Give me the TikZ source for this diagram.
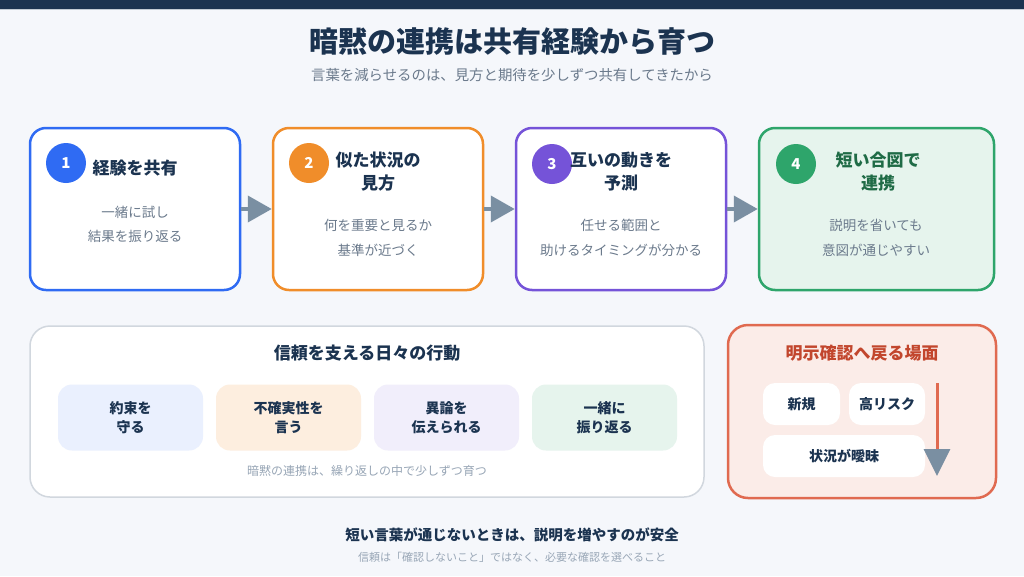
\documentclass[tikz,border=0pt]{standalone}
\usepackage{fontspec,xcolor}
\setmainfont{Noto Sans CJK JP}
\usetikzlibrary{arrows.meta,positioning}

\definecolor{bgpage}{HTML}{F5F7FB}
\definecolor{navy}{HTML}{1B3350}
\definecolor{txtgray}{HTML}{6B7A8C}
\definecolor{lightgray}{HTML}{98A6B6}
\definecolor{cblue}{HTML}{2F6BF3}
\definecolor{corange}{HTML}{F08D2A}
\definecolor{cpurple}{HTML}{7553D8}
\definecolor{cgreen}{HTML}{2EA56B}
\definecolor{dgreen}{HTML}{1F6B46}
\definecolor{flowgray}{HTML}{7A8FA2}
\definecolor{coral}{HTML}{E06A50}
\definecolor{coraltxt}{HTML}{C2462D}

\begin{document}
\begin{tikzpicture}[x=1pt,y=-1pt,
  every node/.style={align=center,inner sep=0pt},
  card/.style={draw=#1,line width=2.5pt,rounded corners=16pt,fill=white,minimum height=162pt},
  badge/.style={circle,fill=#1,text=white,minimum size=40pt,font=\fontsize{15}{18}\selectfont\bfseries},
  ctitle/.style={text=navy,font=\fontsize{17}{23}\selectfont\bfseries},
  cbody/.style={text=txtgray,font=\fontsize{13.5}{24.5}\selectfont},
  flow/.style={draw=flowgray,line width=4pt,-{Triangle[length=24pt,width=26pt]}},
  habit/.style={fill=#1,rounded corners=14pt,minimum width=145pt,minimum height=66pt,text=navy,font=\fontsize{14}{19}\selectfont\bfseries},
  scene/.style={fill=white,rounded corners=12pt,minimum height=42pt,text=navy,font=\fontsize{14}{17}\selectfont\bfseries}]
\useasboundingbox (0,0) rectangle (1024,576);
\fill[bgpage] (0,0) rectangle (1024,576);
\fill[navy] (0,0) rectangle (1024,9);
\draw[lightgray!60,line width=1pt] (0,9.5) -- (1024,9.5);

% heading
\node[text=navy,font=\fontsize{29}{34}\selectfont\bfseries] (title) at (512,42) {暗黙の連携は共有経験から育つ};
\node[text=txtgray,font=\fontsize{14.4}{17}\selectfont] (subtitle) at (512,75) {言葉を減らせるのは、見方と期待を少しずつ共有してきたから};

% four steps
\node[card=cblue,minimum width=210pt] (card1) at (135,209) {};
\node[card=corange,minimum width=210pt] (card2) at (378,209) {};
\node[card=cpurple,minimum width=210pt] (card3) at (621,209) {};
\node[card=cgreen,fill=cgreen!12,minimum width=235pt] (card4) at (876.5,209) {};

\node[badge=cblue] (num1) at (66,163) {1};
\node[badge=corange] (num2) at (309,163) {2};
\node[badge=cpurple] (num3) at (552,164) {3};
\node[badge=cgreen] (num4) at (796,164) {4};

\node[ctitle] (head1) at (135,168) {経験を共有};
\node[ctitle] (head2) at (378,171.5) {似た状況の\\見方};
\node[ctitle] (head3) at (621,171.5) {互いの動きを\\予測};
\node[ctitle,text=dgreen] (head4) at (878,171.5) {短い合図で\\連携};

\node[cbody] (body1) at (135,224.5) {一緒に試し\\結果を振り返る};
\node[cbody] (body2) at (378,238) {何を重要と見るか\\基準が近づく};
\node[cbody] (body3) at (621,238) {任せる範囲と\\助けるタイミングが分かる};
\node[cbody] (body4) at (876,238) {説明を省いても\\意図が通じやすい};

\draw[flow] (card1) -- (card2);
\draw[flow] (card2) -- (card3);
\draw[flow] (card3) -- (card4);

% daily habits
\node[draw=lightgray!45,line width=1.5pt,fill=white,rounded corners=20pt,minimum width=674pt,minimum height=171pt] (habits) at (367,411.5) {};
\node[ctitle] (habitstitle) at (367,353) {信頼を支える日々の行動};
\node[habit=cblue!10] (promise) at (130.5,417.5) {約束を\\守る};
\node[habit=corange!15] (uncertain) at (288.5,417.5) {不確実性を\\言う};
\node[habit=cpurple!10] (dissent) at (446.5,417.5) {異論を\\伝えられる};
\node[habit=cgreen!12] (review) at (604.5,417.5) {一緒に\\振り返る};
\node[text=lightgray,font=\fontsize{12}{14}\selectfont] (habitsnote) at (367,471) {暗黙の連携は、繰り返しの中で少しずつ育つ};

% back to explicit checks
\node[draw=coral,line width=2.5pt,fill=coral!13,rounded corners=20pt,minimum width=268pt,minimum height=173pt] (checks) at (862,411.5) {};
\node[text=coraltxt,font=\fontsize{17}{20}\selectfont\bfseries] (checkstitle) at (862,353) {明示確認へ戻る場面};
\node[scene,minimum width=77pt] (new) at (801.5,404) {新規};
\node[scene,minimum width=76pt] (risk) at (887,404) {高リスク};
\node[scene,minimum width=162pt] (vague) at (844,456) {状況が曖昧};
\coordinate (downtop) at (937,383);
\coordinate (downend) at (937,476);
\draw[coral,line width=3pt,-{Triangle[length=27pt,width=26pt,color=flowgray]}] (downtop) -- (downend);

% closing lines
\node[text=navy,font=\fontsize{14.5}{17}\selectfont\bfseries] (summary) at (512,535) {短い言葉が通じないときは、説明を増やすのが安全};
\node[text=lightgray,font=\fontsize{11}{13}\selectfont] (footnote) at (512,557) {信頼は「確認しないこと」ではなく、必要な確認を選べること};
\end{tikzpicture}
\end{document}
